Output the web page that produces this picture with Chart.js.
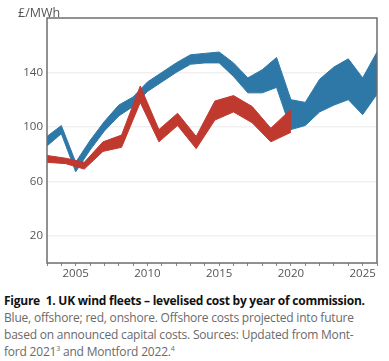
<!DOCTYPE html>
<html>
<head>
<meta charset="utf-8">
<script src="https://cdn.jsdelivr.net/npm/chart.js@4.4.0/dist/chart.umd.min.js"></script>
<style>
  body { margin: 0; background: #fff; font-family: "Open Sans", sans-serif; }
  #wrap { position: relative; width: 389px; height: 285px; }
  #unit { position: absolute; left: 18px; top: 4px; font-size: 12.5px; color: #555; }
  #caption { position: absolute; left: 4px; top: 292px; font-size: 12px; line-height: 17px; color: #6a6a6a; white-space: nowrap; letter-spacing: -0.2px; }
  #caption b { color: #111; letter-spacing: -0.25px; }
  sup { font-size: 7px; vertical-align: 5px; line-height: 0; }
</style>
</head>
<body>
<div id="wrap">
  <canvas id="chart"></canvas>
  <div id="unit">£/MWh</div>
</div>
<div id="caption">
  <b>Figure &nbsp;1. UK wind fleets – levelised cost by year of commission.</b><br>
  Blue, offshore; red, onshore. Offshore costs projected into future<br>
  based on announced capital costs. Sources: Updated from Mont-<br>
  ford 2021<sup>3</sup> and Montford 2022.<sup>4</sup>
</div>
<script>
// Offshore (blue band), one point per year
const offYears = [2003, 2004, 2005, 2006, 2007, 2008, 2009, 2010, 2011, 2012, 2013, 2014,
  2015, 2016, 2017, 2018, 2019, 2020, 2021, 2022, 2023, 2024, 2025, 2026];
const offLow  = [86, 95, 67, 83, 97, 108, 115, 126, 133, 140, 146, 147,
  147, 137, 125, 125, 129, 98, 101, 111, 116, 120, 109, 124];
const offHigh = [93, 101, 74, 90, 104, 116, 122, 133, 140, 147, 153, 154,
  155, 147, 136, 142, 151, 120, 118, 135, 144, 150, 136, 155];

// Onshore (red band)
const onYears = [2003, 2004.3, 2005.6, 2006.9, 2008.2, 2009.5, 2010.8, 2012.1,
  2013.4, 2014.7, 2016, 2017.3, 2018.6, 2020];
const onLow  = [74, 73, 69, 82, 85, 118, 89, 101, 84, 105, 111, 103, 89, 96];
const onHigh = [79, 77, 74, 89, 94, 130, 98, 110, 93, 119, 123, 115, 99, 113];

const yTicks = [20, 60, 100, 140];
const xLabelEvery = 5;

const BLUE = "#2e78a8";
const RED = "#c0392f";

const pts = (xs, ys) => xs.map((x, i) => ({ x: x, y: ys[i] }));

function band(xs, ys, color, fill) {
  return {
    data: pts(xs, ys),
    borderColor: color,
    backgroundColor: color,
    borderWidth: 1,
    pointRadius: 0,
    tension: 0,
    fill: fill,
  };
}

// box round the plot area
const frame = {
  id: "frame",
  afterDraw(chart) {
    const a = chart.chartArea;
    const c = chart.ctx;
    c.save();
    c.strokeStyle = "#6e6e6e";
    c.lineWidth = 1.5;
    c.strokeRect(a.left, a.top, a.right - a.left, a.bottom - a.top);
    c.restore();
  },
};

new Chart(document.getElementById("chart"), {
  type: "line",
  data: {
    datasets: [
      band(onYears, onLow, RED, false),
      band(onYears, onHigh, RED, "-1"),
      band(offYears, offLow, BLUE, false),
      band(offYears, offHigh, BLUE, "-1"),
    ],
  },
  options: {
    responsive: true,
    maintainAspectRatio: false,
    animation: false,
    layout: { padding: { top: 18, right: 12, bottom: 0, left: 0 } },
    plugins: { legend: { display: false }, tooltip: { enabled: false } },
    scales: {
      x: {
        type: "linear",
        min: 2003,
        max: 2026,
        afterFit: (s) => { s.height = 22; },
        ticks: {
          stepSize: 1,
          autoSkip: false,
          maxRotation: 0,
          padding: 1,
          color: "#555",
          font: { family: "Open Sans", size: 11.5 },
          callback: (v) => (v % xLabelEvery === 0 ? String(v) : ""),
        },
        grid: { drawOnChartArea: false, tickLength: 3, color: "#888" },
        border: { display: false },
      },
      y: {
        min: 0,
        max: 180,
        z: 1,
        afterFit: (s) => { s.width = 47; },
        afterBuildTicks: (s) => { s.ticks = yTicks.map((v) => ({ value: v })); },
        ticks: {
          padding: 4,
          color: "#555",
          font: { family: "Open Sans", size: 11.5 },
        },
        grid: { drawTicks: false, color: "rgba(205,205,205,0.3)", lineWidth: 1.5 },
        border: { display: false },
      },
    },
  },
  plugins: [frame],
});
</script>
</body>
</html>
